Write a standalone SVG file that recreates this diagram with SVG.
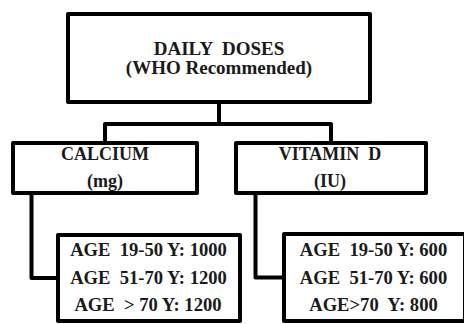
<svg xmlns="http://www.w3.org/2000/svg" width="464" height="324" viewBox="0 0 464 324">
<style>
.box{fill:#fff;stroke:#000;stroke-width:4;stroke-linejoin:round}
.con{fill:none;stroke:#000;stroke-width:4;stroke-linejoin:round}
text{font-family:'Liberation Serif','DejaVu Serif',serif;font-weight:bold;fill:#1a1a1a;text-anchor:middle;white-space:pre}
.t1{font-size:19px}
.t2{font-size:18px}
.t3{font-size:18.6px}
</style>
<rect width="464" height="324" fill="#fff"/>
<g id="connectors">
<path class="con" d="M219 102 V124 M105 143 V124 H331 V143"/>
<path class="con" d="M31.5 193 V278 H58"/>
<path class="con" d="M255.5 193 V277.5 H284"/>
</g>
<g id="daily-doses">
<rect class="box" x="68" y="14" width="302" height="88"/>
<text class="t1" x="219" y="55">DAILY  DOSES</text>
<text class="t1" x="219" y="74">(WHO Recommended)</text>
</g>
<g id="calcium">
<rect class="box" x="13" y="143" width="184" height="50"/>
<text class="t2" x="105" y="160">CALCIUM</text>
<text class="t2" x="105" y="187">(mg)</text>
</g>
<g id="vitamin-d">
<rect class="box" x="236" y="143" width="190" height="50"/>
<text class="t2" x="330" y="160">VITAMIN  D</text>
<text class="t2" x="330" y="187">(IU)</text>
</g>
<g id="calcium-doses">
<rect class="box" x="58" y="235" width="182" height="86"/>
<text class="t3" x="148.5" y="256">AGE  19-50 Y: 1000</text>
<text class="t3" x="148.5" y="284">AGE  51-70 Y: 1200</text>
<text class="t3" x="148" y="311">AGE  &gt; 70 Y: 1200</text>
</g>
<g id="vitamin-d-doses">
<rect class="box" x="284" y="234" width="181" height="87"/>
<text class="t3" x="373.5" y="256">AGE  19-50 Y: 600</text>
<text class="t3" x="373.5" y="284">AGE  51-70 Y: 600</text>
<text class="t3" x="373.5" y="311">AGE&gt;70  Y: 800</text>
</g>
</svg>
